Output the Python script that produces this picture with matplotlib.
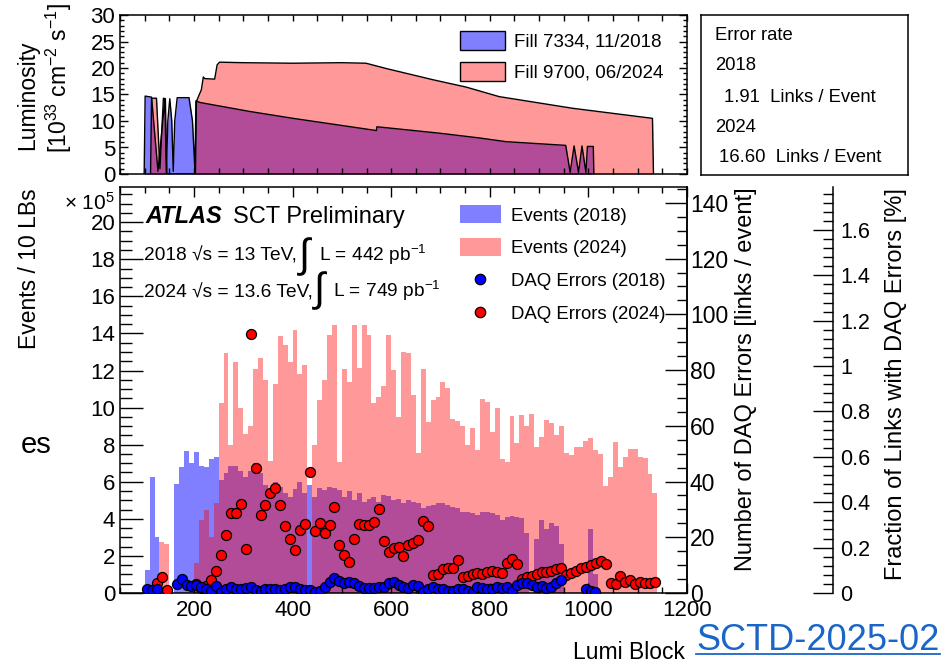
import matplotlib
matplotlib.use('Agg')
import matplotlib.pyplot as plt
import numpy as np
from matplotlib.patches import Patch
from matplotlib.lines import Line2D
from matplotlib.ticker import MultipleLocator, FuncFormatter

plt.rcParams['font.family'] = ['Liberation Sans', 'DejaVu Sans']
plt.rcParams['mathtext.fontset'] = 'custom'
plt.rcParams['mathtext.rm'] = 'Liberation Sans'
plt.rcParams['mathtext.it'] = 'Liberation Sans:italic'
plt.rcParams['mathtext.bf'] = 'Liberation Sans:bold'
plt.rcParams['axes.linewidth'] = 1.1

# instantaneous luminosity of the two fills [1e33 cm-2 s-1]
lumi_lb_2018 = [99, 101, 114, 127, 141, 144, 147, 151, 155, 158, 161, 166, 190, 197, 202, 204,
                212, 313, 401, 570, 571, 583, 698, 779, 833, 954, 963, 971, 980, 987, 995, 998,
                1010, 1011]
lumi_2018 = [0, 14.7, 14.5, 0.5, 14.2, 0.2, 10.0, 14.2, 10.0, 0.5, 10.0, 14.4, 14.4, 10.0, 0.5, 13.8,
             13.5, 11.8, 10.5, 8.2, 8.9, 8.8, 7.7, 6.8, 6.1, 5.4, 0.3, 5.3, 0.3, 5.3, 0.3, 5.2,
             5.2, 0]
lumi_lb_2024 = [112, 114, 124, 131, 138, 142, 145, 203, 205, 215, 219, 222, 242, 247, 252, 300,
                400, 500, 549, 590, 684, 752, 819, 968, 1130, 1132]
lumi_2024 = [0, 14.3, 14.3, 1.0, 14.3, 14.2, 0, 0, 13.7, 15.9, 18.3, 18.0, 17.9, 20.6, 21.1, 21.0,
             20.9, 21.0, 20.9, 19.9, 17.8, 16.4, 14.6, 12.4, 10.5, 0]

# events per 10 lumi blocks [1e5], first bin edge given separately
events_first_lb_2018 = 100
events_2018 = [1.22, 6.24, 3.04, 0, 0, 0, 5.88, 6.77, 7.65, 7.03,
               7.62, 6.86, 6.81, 7.24, 7.33, 6.09, 6.49, 6.85, 6.86, 6.6,
               6.27, 6.58, 7.03, 6.45, 5.82, 5.59, 6.0, 5.73, 5.37, 5.16,
               5.59, 6.0, 5.37, 5.82, 5.19, 5.68, 5.55, 5.7, 5.64, 5.55,
               5.19, 5.52, 5.01, 5.41, 4.89, 5.05, 5.19, 4.91, 5.28, 5.23,
               5.01, 5.05, 4.83, 5.01, 4.92, 4.83, 4.56, 4.69, 4.74, 4.83,
               4.83, 4.74, 4.65, 4.56, 4.38, 4.38, 4.29, 4.2, 4.35, 4.38,
               4.3, 4.2, 3.95, 4.11, 4.15, 4.08, 4.03, 3.22, 0, 2.9,
               3.94, 3.45, 3.8, 3.6, 2.65, 0, 0, 0, 0, 0,
               3.43, 1.0]
events_first_lb_2024 = 130
events_2024 = [2.77, 2.64, 0, 0, 0, 0, 0, 1.6, 3.94, 4.47,
               3.03, 4.87, 10.26, 12.97, 8.01, 12.47, 10.0, 8.6, 9.0, 12.06,
               12.65, 11.48, 7.12, 11.3, 13.85, 13.37, 12.45, 14.2, 11.84, 12.29,
               0, 7.98, 10.4, 11.48, 13.9, 14.45, 7.08, 12.07, 11.39, 14.45,
               12.15, 14.45, 13.9, 10.26, 10.58, 11.16, 13.94, 12.02, 9.5, 13.0,
               12.92, 10.67, 7.57, 12.06, 9.2, 10.4, 10.58, 11.39, 11.07, 9.38,
               9.29, 9.0, 7.98, 8.91, 7.71, 10.44, 10.31, 8.7, 9.96, 7.21,
               7.04, 9.54, 8.07, 9.58, 9.0, 9.65, 7.89, 8.39, 9.33, 9.18,
               8.52, 9.0, 7.53, 7.44, 7.89, 7.89, 8.21, 8.37, 7.71, 7.49,
               5.77, 6.27, 8.16, 6.81, 7.35, 7.76, 7.76, 7.35, 7.3, 6.42,
               5.41]

# DAQ errors [links / event]
daq_lb_2018 = [105, 115, 125, 165, 175, 185, 195, 205, 215, 225, 235, 245, 255, 265, 275,
               285, 295, 305, 315, 325, 335, 345, 355, 365, 375, 385, 395, 405, 415, 425,
               435, 445, 455, 465, 475, 485, 495, 505, 515, 525, 535, 545, 555, 565, 575,
               585, 595, 605, 615, 625, 635, 645, 655, 665, 675, 685, 695, 705, 715, 725,
               735, 745, 755, 765, 775, 785, 795, 805, 815, 825, 835, 845, 855, 865, 875,
               885, 895, 905, 915, 925, 935, 945, 995, 1005, 1013]
daq_2018 = [1.3, 1.1, 1.3, 3.2, 4.9, 2.9, 2.5, 3.0, 2.0, 1.6, 0.8, 2.5, 0.3, 1.6, 2.0,
            1.3, 1.6, 1.7, 2.0, 1.1, 0.8, 1.6, 1.6, 1.6, 1.1, 1.3, 2.0, 2.0, 1.3, 1.1,
            1.1, 0.5, 0.8, 2.3, 4.1, 5.3, 4.4, 3.7, 4.1, 3.5, 2.5, 1.9, 1.9, 1.9, 2.0,
            2.3, 3.5, 4.1, 2.9, 2.0, 1.7, 2.8, 2.5, 0.5, 1.3, 2.0, 1.6, 1.3, 0.8, 0.8,
            1.3, 1.6, 0.8, 0.4, 2.0, 1.7, 1.3, 1.6, 2.0, 1.7, 2.0, 0.8, 2.9, 3.5, 3.5,
            2.9, 2.0, 2.5, 1.7, 2.3, 3.5, 4.5, 1.3, 0.8, 0.2]
daq_lb_2024 = [125, 135, 145, 205, 215, 225, 235, 245, 255, 265, 275, 285, 295, 305, 315,
               325, 335, 345, 355, 365, 375, 385, 395, 405, 415, 425, 435, 445, 455, 465,
               475, 485, 495, 505, 515, 525, 535, 545, 555, 565, 575, 585, 595, 605, 615,
               625, 635, 645, 655, 665, 675, 685, 695, 705, 715, 725, 735, 745, 755, 765,
               775, 785, 795, 805, 815, 825, 835, 845, 855, 865, 875, 885, 895, 905, 915,
               925, 935, 945, 955, 965, 975, 985, 995, 1005, 1015, 1025, 1035, 1045, 1055, 1065,
               1075, 1085, 1095, 1105, 1115, 1125, 1135]
daq_2024 = [3.5, 5.9, 1.2, 3.4, 1.9, 2.4, 4.5, 7.8, 13.6, 20.8, 28.6, 28.8, 31.9, 15.7, 93.0,
            44.7, 28.0, 31.6, 36.0, 37.6, 31.6, 24.2, 19.4, 15.4, 22.6, 24.8, 43.6, 22.3, 25.0, 21.4,
            24.4, 30.7, 17.2, 13.6, 11.2, 19.3, 24.8, 24.5, 24.3, 25.5, 30.3, 18.7, 14.8, 16.0, 16.6,
            13.3, 17.2, 17.8, 19.0, 26.0, 24.2, 6.5, 6.8, 8.5, 8.9, 8.9, 11.8, 5.7, 6.1, 6.8,
            7.1, 6.8, 7.7, 7.9, 7.7, 7.3, 10.6, 12.1, 10.4, 5.0, 5.9, 6.1, 6.7, 7.7, 7.7,
            8.0, 8.5, 8.9, 6.5, 7.1, 8.0, 8.9, 9.5, 10.1, 10.9, 11.6, 10.3, 3.7, 3.2, 6.1,
            4.1, 4.7, 3.2, 4.1, 3.7, 3.7, 3.9]

error_rate_2018 = 1.91
error_rate_2024 = 16.60

blue = (0, 0, 1, 0.5)
red = (1, 0, 0, 0.4)

W, H = 945, 663
fig = plt.figure(figsize=(W / 100, H / 100), dpi=100)


def box(x0, y0, x1, y1):
    return [x0 / W, 1 - y1 / H, (x1 - x0) / W, (y1 - y0) / H]


def fpos(x, y):
    return x / W, 1 - y / H


# ---- luminosity panel ----
ax_lumi = fig.add_axes(box(120, 15, 687, 174))
ax_lumi.fill_between(lumi_lb_2018, lumi_2018, color=blue, lw=0)
ax_lumi.plot(lumi_lb_2018, lumi_2018, color='black', lw=1)
ax_lumi.fill_between(lumi_lb_2024, lumi_2024, color=red, lw=0)
ax_lumi.plot(lumi_lb_2024, lumi_2024, color='black', lw=1)
ax_lumi.set_xlim(50, 1200)
ax_lumi.set_ylim(0, 30)
ax_lumi.xaxis.set_major_locator(MultipleLocator(200))
ax_lumi.xaxis.set_minor_locator(MultipleLocator(50))
ax_lumi.yaxis.set_major_locator(MultipleLocator(5))
ax_lumi.yaxis.set_minor_locator(MultipleLocator(1))
ax_lumi.tick_params(which='both', direction='in', top=True, right=True,
                    labelbottom=False, labelsize=16, pad=3.5, width=1)
ax_lumi.tick_params(axis='x', which='both', length=4)
ax_lumi.tick_params(axis='y', which='major', length=6)
ax_lumi.tick_params(axis='y', which='minor', length=3)
ax_lumi.legend(handles=[Patch(facecolor=blue, edgecolor='black', lw=1),
                        Patch(facecolor=red, edgecolor='black', lw=1)],
               labels=['Fill 7334, 11/2018', 'Fill 9700, 06/2024'],
               loc='upper left', bbox_to_anchor=fpos(460, 31), bbox_transform=fig.transFigure,
               frameon=False, fontsize=13.5, handlelength=2.4, handleheight=1.15,
               handletextpad=0.5, labelspacing=0.62, borderpad=0, borderaxespad=0)
fig.text(*fpos(28, 95), 'Luminosity', rotation=90, ha='center', va='center', fontsize=16.5)
fig.text(*fpos(59, 78), r'[10$^{33}$ cm$^{-2}$ s$^{-1}$]', rotation=90,
         ha='center', va='center', fontsize=16.5)

# ---- error rate summary ----
ax_box = fig.add_axes(box(701, 15, 908, 175))
ax_box.set_xticks([])
ax_box.set_yticks([])
ax_box.set_xlim(701, 908)
ax_box.set_ylim(175, 15)
summary = [(715, 35, 'Error rate'), (715, 65, '2018'),
           (724, 97, f'{error_rate_2018:.2f}  Links / Event'), (715, 127, '2024'),
           (719, 158, f'{error_rate_2024:.2f}  Links / Event')]
for x, y, s in summary:
    ax_box.text(x, y, s, ha='left', va='center', fontsize=13.3)

# ---- events / DAQ errors panel ----
ax_ev = fig.add_axes(box(120, 187, 687, 593))
edges_2018 = events_first_lb_2018 + 10 * np.arange(len(events_2018) + 1)
edges_2024 = events_first_lb_2024 + 10 * np.arange(len(events_2024) + 1)
ax_ev.stairs(events_2018, edges_2018, fill=True, color=blue, lw=0)
ax_ev.stairs(events_2024, edges_2024, fill=True, color=red, lw=0)
ax_ev.set_xlim(50, 1200)
ax_ev.set_ylim(0, 21.9)
ax_ev.xaxis.set_major_locator(MultipleLocator(200))
ax_ev.xaxis.set_minor_locator(MultipleLocator(50))
ax_ev.yaxis.set_major_locator(MultipleLocator(2))
ax_ev.yaxis.set_minor_locator(MultipleLocator(0.5))
ax_ev.tick_params(which='both', direction='in', top=True, right=False, labelsize=16, width=1)
ax_ev.tick_params(axis='x', which='major', length=7, pad=5)
ax_ev.tick_params(axis='x', which='minor', length=4)
ax_ev.tick_params(axis='y', which='major', length=16.5, pad=3.5)
ax_ev.tick_params(axis='y', which='minor', length=8.5)

ax_daq = ax_ev.twinx()
ax_daq.set_ylim(0, 145.7)
ax_daq.yaxis.set_major_locator(MultipleLocator(20))
ax_daq.yaxis.set_minor_locator(MultipleLocator(5))
ax_daq.tick_params(which='both', direction='in', labelsize=16.5, pad=2, width=1)
ax_daq.tick_params(which='major', length=16)
ax_daq.tick_params(which='minor', length=7.5)
for side in ['left', 'top', 'bottom']:
    ax_daq.spines[side].set_visible(False)
ax_daq.scatter(daq_lb_2024, daq_2024, s=52, color='red', edgecolors='black', linewidths=0.9, zorder=3)
ax_daq.scatter(daq_lb_2018, daq_2018, s=52, color='blue', edgecolors='black', linewidths=0.9, zorder=4)

ax_frac = ax_ev.twinx()
ax_frac.set_ylim(0, 1.789)
ax_frac.spines['right'].set_position(('axes', (833 - 120) / 567))
for side in ['left', 'top', 'bottom']:
    ax_frac.spines[side].set_visible(False)
ax_frac.yaxis.set_major_locator(MultipleLocator(0.2))
ax_frac.yaxis.set_minor_locator(MultipleLocator(0.04))
ax_frac.yaxis.set_major_formatter(FuncFormatter(lambda v, p: f'{v:g}'))
ax_frac.tick_params(which='both', direction='in', labelsize=15.5, pad=5, width=1)
ax_frac.tick_params(which='major', length=14.5)
ax_frac.tick_params(which='minor', length=7)

fig.legend(handles=[Patch(facecolor=blue, lw=0), Patch(facecolor=red, lw=0),
                    Line2D([], [], ls='none', marker='o', ms=7.5, mfc='blue', mec='black', mew=0.9),
                    Line2D([], [], ls='none', marker='o', ms=7.5, mfc='red', mec='black', mew=0.9)],
           labels=['Events (2018)', 'Events (2024)', 'DAQ Errors (2018)', 'DAQ Errors (2024)'],
           loc='upper left', bbox_to_anchor=fpos(460, 205), frameon=False, fontsize=13.4,
           handlelength=2.2, handleheight=1.15, handletextpad=0.55, labelspacing=0.72,
           borderpad=0, borderaxespad=0)

# ---- labels and annotations ----
fig.text(*fpos(30, 188), 'Events / 10 LBs', rotation=90, ha='center', va='top', fontsize=16.5)
fig.text(*fpos(746, 187), 'Number of DAQ Errors [links / event]', rotation=90,
         ha='center', va='top', fontsize=17)
fig.text(*fpos(896, 188), 'Fraction of Links with DAQ Errors [%]', rotation=90,
         ha='center', va='top', fontsize=17)
fig.text(*fpos(64, 210), r'× 10$^{5}$', fontsize=15, ha='left', va='baseline')
fig.text(*fpos(145, 223), 'ATLAS', fontsize=17, fontweight='bold', fontstyle='italic',
         ha='left', va='baseline')
fig.text(*fpos(233, 223), 'SCT Preliminary', fontsize=17, ha='left', va='baseline')
fig.text(*fpos(144, 261), '2018 √s = 13 TeV,', fontsize=13.8, ha='left', va='baseline')
fig.text(*fpos(305, 257), r'$\int$', fontsize=29, ha='center', va='center')
fig.text(*fpos(319, 261), r'L = 442 pb$^{-1}$', fontsize=13.8, ha='left', va='baseline')
fig.text(*fpos(144, 297), '2024 √s = 13.6 TeV,', fontsize=13.8, ha='left', va='baseline')
fig.text(*fpos(320, 291), r'$\int$', fontsize=29, ha='center', va='center')
fig.text(*fpos(333, 297), r'L = 749 pb$^{-1}$', fontsize=13.8, ha='left', va='baseline')

fig.text(*fpos(21, 445), 'es', fontsize=21, ha='left', va='center')
fig.text(*fpos(685, 659), 'Lumi Block', fontsize=16.5, ha='right', va='baseline')
link_color = '#1a66c8'
fig.text(*fpos(696, 650), 'SCTD-2025-02', fontsize=26, ha='left', va='baseline', color=link_color)
fig.add_artist(Line2D([696 / W, 940 / W], [1 - 654 / H, 1 - 654 / H], color=link_color, lw=1.3))

fig.savefig('out.png', dpi=100)
